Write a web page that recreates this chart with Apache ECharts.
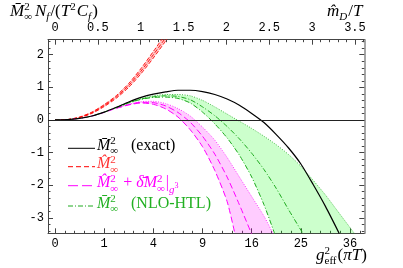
<!DOCTYPE html>
<html><head><meta charset="utf-8">
<script src="https://cdn.jsdelivr.net/npm/echarts@6/dist/echarts.min.js"></script>
<style>html,body{margin:0;padding:0;background:#fff}#c{width:403px;height:268px}</style>
</head><body><div id="c"></div>
<script>
// ---- tick labels ----
const gTicks = [0, 1, 2, 3, 4, 5, 6];
const gTickLabels = ['0', '1', '4', '9', '16', '25', '36'];
const mTicks = [0, 0.5, 1, 1.5, 2, 2.5, 3, 3.5];
const mTickLabels = ['0', '0.5', '1', '1.5', '2', '2.5', '3', '3.5'];
const yTicks = [-3, -2, -1, 0, 1, 2];
const yTickLabels = ['-3', '-2', '-1', '0', '1', '2'];

// ---- curves: [g, value] (x axis is linear in g; labels show g^2) ----
const exactCurve = [[0,0],[0.25,0.01],[0.5,0.05],[0.75,0.12],[1,0.24],[1.25,0.39],[1.5,0.55],[1.75,0.69],[2,0.79],[2.25,0.86],[2.5,0.91],[2.75,0.91],[3,0.87],[3.25,0.78],[3.5,0.64],[3.75,0.45],[4,0.2],[4.25,-0.08],[4.5,-0.45],[4.75,-0.86],[5,-1.35],[5.25,-1.98],[5.5,-2.65],[5.78,-3.48]];

const redLo  = [[0,0],[0.25,0.01],[0.5,0.07],[0.75,0.2],[1,0.41],[1.25,0.67],[1.5,1.0],[1.75,1.42],[2,1.9],[2.25,2.42],[2.4,2.75]];
const redMid = [[0,0],[0.25,0.01],[0.5,0.08],[0.75,0.22],[1,0.44],[1.25,0.71],[1.5,1.06],[1.75,1.5],[2,2.0],[2.25,2.52],[2.35,2.75]];
const redHi  = [[0,0],[0.25,0.01],[0.5,0.09],[0.75,0.24],[1,0.47],[1.25,0.75],[1.5,1.12],[1.75,1.58],[2,2.1],[2.25,2.64],[2.3,2.75]];

const magMid = [[0,0],[0.25,0.01],[0.5,0.05],[0.75,0.12],[1,0.23],[1.25,0.36],[1.5,0.47],[1.75,0.54],[2,0.53],[2.25,0.43],[2.5,0.23],[2.75,-0.07],[3,-0.5],[3.25,-1.05],[3.5,-1.75],[3.75,-2.6],[4,-3.5]];
const magLo  = [[1.25,0.36],[1.5,0.46],[1.75,0.52],[2,0.48],[2.25,0.34],[2.5,0.09],[2.75,-0.3],[3,-0.82],[3.25,-1.55],[3.5,-2.5],[3.66,-3.5]];
const magHi  = [[1.25,0.36],[1.5,0.48],[1.75,0.56],[2,0.57],[2.25,0.5],[2.5,0.35],[2.75,0.12],[3,-0.22],[3.25,-0.62],[3.5,-1.15],[3.75,-1.75],[4,-2.35],[4.25,-2.95],[4.44,-3.5]];

const grnMid = [[0,0],[0.25,0.01],[0.5,0.05],[0.75,0.12],[1,0.24],[1.25,0.38],[1.5,0.53],[1.75,0.64],[2,0.71],[2.25,0.74],[2.5,0.72],[2.75,0.62],[3,0.4],[3.25,0.13],[3.5,-0.2],[3.75,-0.58],[4,-1.02],[4.25,-1.52],[4.5,-2.1],[4.75,-2.75],[5.05,-3.5]];
const grnLo  = [[1.25,0.38],[1.5,0.52],[1.75,0.63],[2,0.69],[2.25,0.7],[2.5,0.66],[2.75,0.52],[3,0.24],[3.25,-0.12],[3.5,-0.55],[3.75,-1.08],[4,-1.75],[4.25,-2.6],[4.47,-3.5]];
const grnHi  = [[1.25,0.39],[1.5,0.54],[1.75,0.66],[2,0.74],[2.25,0.78],[2.5,0.78],[2.75,0.74],[3,0.6],[3.25,0.4],[3.5,0.18],[3.75,-0.04],[4,-0.26],[4.25,-0.5],[4.5,-0.76],[4.75,-1.06],[5,-1.42],[5.25,-1.85],[5.5,-2.3],[5.75,-2.8],[6.1,-3.5]];

// ---- layout ----
const G_MIN = -0.1424, G_MAX = 6.290;
const M_MIN = -0.0817, M_MAX = 3.609;
const Y_MIN = -3.475, Y_MAX = 2.46;

function steps(a, b, s, skip) {
  const out = [];
  for (let i = Math.round(a / s); i * s <= b + 1e-9; i++) {
    const v = +(i * s).toFixed(4);
    if (Math.abs(v / skip - Math.round(v / skip)) > 1e-6) out.push(v);
  }
  return out;
}
const gMinor = steps(0, 6.2, 0.2, 1);
const mMinor = steps(0, 3.6, 0.1, 0.5);
const yMinor = steps(-3.4, 2.4, 0.2, 1);

function lab(vals, labels) {
  return v => { const i = vals.findIndex(t => Math.abs(t - v) < 1e-6); return i >= 0 ? labels[i] : ''; };
}
const AX = '#444';
const tickFont = { fontFamily: 'Liberation Mono', fontSize: 12, color: '#000' };

function xAx(pos, min, max, vals, labels, len, showLine) {
  return {
    type: 'value', position: pos, min, max,
    axisLine: { show: showLine, onZero: false, lineStyle: { color: AX, width: 1 } },
    axisTick: { show: true, inside: true, length: len, customValues: vals, lineStyle: { color: AX, width: 1 } },
    axisLabel: labels ? Object.assign({ show: true, customValues: vals, formatter: lab(vals, labels), margin: pos === 'top' ? 6 : 5 }, tickFont) : { show: false },
    splitLine: { show: false }, minorTick: { show: false }
  };
}
function yAx(pos, vals, labels, len, showLine, lc, lw) {
  return {
    type: 'value', position: pos, min: Y_MIN, max: Y_MAX,
    axisLine: { show: showLine, onZero: false, lineStyle: { color: lc || AX, width: lw || 1 } },
    axisTick: { show: true, inside: true, length: len, customValues: vals, lineStyle: { color: AX, width: 1 } },
    axisLabel: labels ? Object.assign({ show: true, customValues: vals, formatter: lab(vals, labels), margin: 4 }, tickFont) : { show: false },
    splitLine: { show: false }, minorTick: { show: false }
  };
}

// ---- math-ish text helper ----
const mctx = document.createElement('canvas').getContext('2d');
const SERIF = '"Liberation Serif", "Times New Roman", serif';
function fnt(size, it) { return (it ? 'italic ' : '') + size + 'px ' + SERIF; }
function tw(t, size, it) { mctx.font = fnt(size, it); return mctx.measureText(t).width; }
function txtEl(x, base, t, size, it, color) {
  return { type: 'text', x: x, y: base - 0.34 * size, silent: true, z: 100,
    style: { text: t, font: fnt(size, it), fill: color, textAlign: 'left', textVerticalAlign: 'middle', verticalAlign: 'middle' } };
}
function mathText(x, base, pieces, color, B) {
  B = B || 16;
  const els = []; let cx = x;
  for (const p of pieces) {
    if (p.gap !== undefined) { cx += p.gap; continue; }
    if (p.at !== undefined) { cx = p.at; continue; }
    if (p.stack) {
      let adv = 0;
      for (const q of p.stack) { const s = q.size || B; els.push(txtEl(cx, base + (q.dy || 0), q.t, s, q.it, color)); adv = Math.max(adv, tw(q.t, s, q.it)); }
      cx += adv + 1; continue;
    }
    const s = p.size || B;
    els.push(txtEl(cx, base + (p.dy || 0), p.t, s, p.it, color));
    cx += tw(p.t, s, p.it);
  }
  return els;
}
const SUPSUB = { stack: [{ t: '2', size: 11, dy: -6 }, { t: '\u221E', size: 11, dy: 4 }] };

const BLACK = '#000', RED = '#ff0000', MAG = '#ff00ff', GRN = '#1faa1f';
const legendRows = [148.3, 166.7, 185.7, 206];
const graphics = [];
// axis titles
graphics.push(...mathText(10, 17, [{ t: 'M\u0304', it: 1 }, SUPSUB, { gap: 2 }, { t: 'N', it: 1 }, { t: 'f', size: 11, it: 1, dy: 4 }, { gap: 1 }, { t: '/(' }, { t: 'T', it: 1 }, { t: '2', size: 11, dy: -6 }, { gap: 1 }, { t: 'C', it: 1 }, { t: 'f', size: 11, it: 1, dy: 4 }, { gap: 1 }, { t: ')' }], BLACK, 17));
graphics.push(...mathText(327, 17, [{ t: 'm\u0302', it: 1 }, { t: 'D', size: 11, it: 1, dy: 4 }, { gap: 1 }, { t: '/' }, { t: 'T', it: 1 }], BLACK, 17));
graphics.push(...mathText(316, 261, [{ t: 'g', it: 1 }, { stack: [{ t: '2', size: 11, dy: -6 }, { t: 'eff', size: 11, dy: 4 }] }, { t: '(' }, { t: '\u03C0T', it: 1 }, { t: ')' }], BLACK, 17));
// legend
function legLine(y, color, dash, w) {
  return { type: 'line', silent: true, z: 100, shape: { x1: 68, y1: y, x2: 95, y2: y }, style: { stroke: color, lineWidth: w || 1, lineDash: dash || null } };
}
graphics.push(legLine(legendRows[0], BLACK, null, 1));
graphics.push(legLine(legendRows[1], RED, [5, 3], 1));
graphics.push(legLine(legendRows[2], MAG, [10, 4], 1));
graphics.push(legLine(legendRows[3], GRN, [5, 2, 1, 2], 1));
graphics.push(...mathText(97, legendRows[0] + 3, [{ t: 'M\u0304', it: 1 }, SUPSUB, { at: 131 }, { t: '(exact)' }], BLACK));
graphics.push(...mathText(97, legendRows[1] + 3, [{ t: 'M\u0302', it: 1 }, SUPSUB], '#ff3333'));
graphics.push(...mathText(97, legendRows[2] + 3, [{ t: 'M\u0302', it: 1 }, SUPSUB, { t: ' + ' }, { t: '\u03B4\u0304', it: 1 }, { t: 'M', it: 1 }, SUPSUB, { t: '|' }, { t: 'g', size: 11, it: 1, dy: 5 }, { t: '3', size: 8, dy: 0 }], MAG));
graphics.push(...mathText(97, legendRows[3] + 3, [{ t: 'M\u0304', it: 1 }, SUPSUB, { at: 131 }, { t: '(NLO-HTL)' }], '#22b022'));

function band(upper, lower, fill) {
  return { type: 'custom', xAxisIndex: 0, yAxisIndex: 0, clip: true, silent: true, z: 1, data: [[0, 0]],
    renderItem: (params, api) => {
      const pts = upper.concat(lower.slice().reverse()).map(p => api.coord(p));
      return { type: 'polygon', shape: { points: pts }, style: { fill: fill } };
    } };
}
function line(data, color, dash, w, z) {
  return { type: 'line', xAxisIndex: 0, yAxisIndex: 0, data: data, showSymbol: false, symbol: 'none', smooth: 0.25, clip: true, silent: true, z: z || 3,
    lineStyle: { color: color, width: w || 1, type: dash || 'solid' } };
}

const chart = echarts.init(document.getElementById('c'), null, { renderer: 'canvas' });
chart.setOption({
  animation: false,
  backgroundColor: '#fff',
  grid: { left: 48, right: 38.7, top: 39.7, bottom: 34.7, containLabel: false },
  xAxis: [
    xAx('bottom', G_MIN, G_MAX, gTicks, gTickLabels, 5, true),
    xAx('bottom', G_MIN, G_MAX, gMinor, null, 2.5, false),
    xAx('top', M_MIN, M_MAX, mTicks, mTickLabels, 5, true),
    xAx('top', M_MIN, M_MAX, mMinor, null, 2.5, false)
  ],
  yAxis: [
    yAx('left', yTicks, yTickLabels, 5, true),
    yAx('left', yMinor, null, 2.5, false),
    yAx('right', yTicks, null, 5, true, '#888', 1.5),
    yAx('right', yMinor, null, 2.5, false)
  ],
  series: [
    band(redHi, redLo, 'rgba(255,0,0,0.22)'),
    band(magHi, magLo, 'rgba(255,0,255,0.2)'),
    band(grnHi, grnLo, 'rgba(0,255,0,0.2)'),
    Object.assign(line(exactCurve, BLACK, 'solid', 1.2, 4), {
      markLine: { silent: true, symbol: ['none', 'none'], label: { show: false }, lineStyle: { color: '#222', width: 1, type: 'solid' }, data: [{ yAxis: 0 }] }
    }),
    line(redLo, RED, [4, 2], 0.9),
    line(redMid, RED, [4, 2], 0.9),
    line(redHi, RED, [4, 2], 0.9),
    line(magLo, MAG, [6, 3], 1),
    line(magMid, MAG, [6, 3], 1),
    line(magHi, MAG, [1, 1.5], 0.8),
    line(grnLo, GRN, [5, 2, 1, 2], 1),
    line(grnMid, GRN, [5, 2, 1, 2], 1),
    line(grnHi, GRN, [1, 1.5], 0.8)
  ],
  graphic: graphics
});
</script>
</body></html>
